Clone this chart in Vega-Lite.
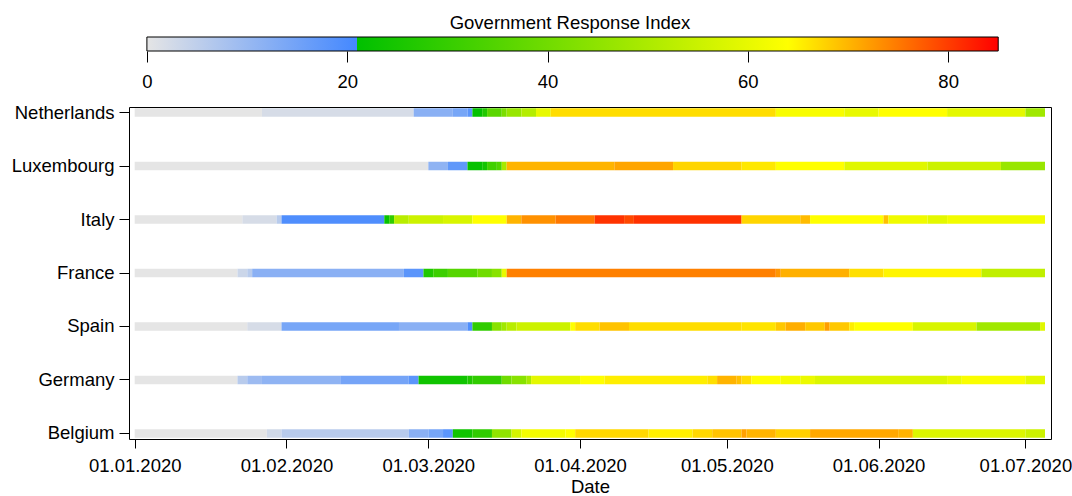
{
 "$schema": "https://vega.github.io/schema/vega-lite/v6.json",
 "autosize": {"type": "none"},
 "padding": {"left": 129, "top": 37, "right": 943, "bottom": 459},
 "background": "white",
 "bounds": "flush",
 "spacing": 56,
 "config": {
  "font": "Liberation Sans",
  "view": {"stroke": "black", "strokeWidth": 1},
  "axis": {"labelFont": "Liberation Sans", "titleFont": "Liberation Sans", "labelColor": "black", "titleColor": "black", "tickColor": "black", "labelFontSize": 18.5, "titleFontSize": 18.5, "titleFontWeight": "normal", "grid": false, "domain": false},
  "title": {"font": "Liberation Sans", "fontSize": 18.5, "fontWeight": "normal", "color": "black"}
 },
 "datasets": {
  "gri": [
   {"country": "Netherlands", "start": "2020-01-01", "end": "2020-01-27", "gri": 0},
   {"country": "Netherlands", "start": "2020-01-27", "end": "2020-02-27", "gri": 2},
   {"country": "Netherlands", "start": "2020-02-27", "end": "2020-03-06", "gri": 11.9},
   {"country": "Netherlands", "start": "2020-03-06", "end": "2020-03-09", "gri": 14.3},
   {"country": "Netherlands", "start": "2020-03-09", "end": "2020-03-10", "gri": 18},
   {"country": "Netherlands", "start": "2020-03-10", "end": "2020-03-12", "gri": 21.5},
   {"country": "Netherlands", "start": "2020-03-12", "end": "2020-03-13", "gri": 26.4},
   {"country": "Netherlands", "start": "2020-03-13", "end": "2020-03-16", "gri": 36.2},
   {"country": "Netherlands", "start": "2020-03-16", "end": "2020-03-17", "gri": 41.6},
   {"country": "Netherlands", "start": "2020-03-17", "end": "2020-03-20", "gri": 46.6},
   {"country": "Netherlands", "start": "2020-03-20", "end": "2020-03-23", "gri": 51.4},
   {"country": "Netherlands", "start": "2020-03-23", "end": "2020-03-26", "gri": 60.1},
   {"country": "Netherlands", "start": "2020-03-26", "end": "2020-05-11", "gri": 66.8},
   {"country": "Netherlands", "start": "2020-05-11", "end": "2020-05-25", "gri": 62.8},
   {"country": "Netherlands", "start": "2020-05-25", "end": "2020-06-01", "gri": 60.1},
   {"country": "Netherlands", "start": "2020-06-01", "end": "2020-06-15", "gri": 64},
   {"country": "Netherlands", "start": "2020-06-15", "end": "2020-07-01", "gri": 59.4},
   {"country": "Netherlands", "start": "2020-07-01", "end": "2020-07-05", "gri": 48},
   {"country": "Luxembourg", "start": "2020-01-01", "end": "2020-03-01", "gri": 0},
   {"country": "Luxembourg", "start": "2020-03-01", "end": "2020-03-05", "gri": 11.2},
   {"country": "Luxembourg", "start": "2020-03-05", "end": "2020-03-09", "gri": 17.3},
   {"country": "Luxembourg", "start": "2020-03-09", "end": "2020-03-12", "gri": 22},
   {"country": "Luxembourg", "start": "2020-03-12", "end": "2020-03-13", "gri": 24},
   {"country": "Luxembourg", "start": "2020-03-13", "end": "2020-03-15", "gri": 31.8},
   {"country": "Luxembourg", "start": "2020-03-15", "end": "2020-03-16", "gri": 34.5},
   {"country": "Luxembourg", "start": "2020-03-16", "end": "2020-03-17", "gri": 49.3},
   {"country": "Luxembourg", "start": "2020-03-17", "end": "2020-04-08", "gri": 70.2},
   {"country": "Luxembourg", "start": "2020-04-08", "end": "2020-04-20", "gri": 71.4},
   {"country": "Luxembourg", "start": "2020-04-20", "end": "2020-05-04", "gri": 67.5},
   {"country": "Luxembourg", "start": "2020-05-04", "end": "2020-05-11", "gri": 65.9},
   {"country": "Luxembourg", "start": "2020-05-11", "end": "2020-05-25", "gri": 64},
   {"country": "Luxembourg", "start": "2020-05-25", "end": "2020-06-11", "gri": 58.8},
   {"country": "Luxembourg", "start": "2020-06-11", "end": "2020-06-26", "gri": 55.4},
   {"country": "Luxembourg", "start": "2020-06-26", "end": "2020-07-05", "gri": 46.6},
   {"country": "Italy", "start": "2020-01-01", "end": "2020-01-23", "gri": 0},
   {"country": "Italy", "start": "2020-01-23", "end": "2020-01-30", "gri": 2},
   {"country": "Italy", "start": "2020-01-30", "end": "2020-01-31", "gri": 5.9},
   {"country": "Italy", "start": "2020-01-31", "end": "2020-02-21", "gri": 19.6},
   {"country": "Italy", "start": "2020-02-21", "end": "2020-02-22", "gri": 22.5},
   {"country": "Italy", "start": "2020-02-22", "end": "2020-02-23", "gri": 29.1},
   {"country": "Italy", "start": "2020-02-23", "end": "2020-02-26", "gri": 52},
   {"country": "Italy", "start": "2020-02-26", "end": "2020-03-04", "gri": 55.4},
   {"country": "Italy", "start": "2020-03-04", "end": "2020-03-10", "gri": 57.4},
   {"country": "Italy", "start": "2020-03-10", "end": "2020-03-17", "gri": 64},
   {"country": "Italy", "start": "2020-03-17", "end": "2020-03-20", "gri": 70.2},
   {"country": "Italy", "start": "2020-03-20", "end": "2020-03-27", "gri": 73.1},
   {"country": "Italy", "start": "2020-03-27", "end": "2020-04-04", "gri": 75.1},
   {"country": "Italy", "start": "2020-04-04", "end": "2020-04-10", "gri": 80.8},
   {"country": "Italy", "start": "2020-04-10", "end": "2020-04-12", "gri": 79.1},
   {"country": "Italy", "start": "2020-04-12", "end": "2020-05-04", "gri": 81},
   {"country": "Italy", "start": "2020-05-04", "end": "2020-05-16", "gri": 67.5},
   {"country": "Italy", "start": "2020-05-16", "end": "2020-05-18", "gri": 69.6},
   {"country": "Italy", "start": "2020-05-18", "end": "2020-06-02", "gri": 64},
   {"country": "Italy", "start": "2020-06-02", "end": "2020-06-03", "gri": 69.2},
   {"country": "Italy", "start": "2020-06-03", "end": "2020-06-11", "gri": 61.5},
   {"country": "Italy", "start": "2020-06-11", "end": "2020-06-15", "gri": 59.4},
   {"country": "Italy", "start": "2020-06-15", "end": "2020-07-05", "gri": 61.8},
   {"country": "France", "start": "2020-01-01", "end": "2020-01-22", "gri": 0},
   {"country": "France", "start": "2020-01-22", "end": "2020-01-24", "gri": 3.4},
   {"country": "France", "start": "2020-01-24", "end": "2020-01-25", "gri": 5.9},
   {"country": "France", "start": "2020-01-25", "end": "2020-02-25", "gri": 11.9},
   {"country": "France", "start": "2020-02-25", "end": "2020-02-29", "gri": 18},
   {"country": "France", "start": "2020-02-29", "end": "2020-03-02", "gri": 26.4},
   {"country": "France", "start": "2020-03-02", "end": "2020-03-05", "gri": 31.1},
   {"country": "France", "start": "2020-03-05", "end": "2020-03-11", "gri": 35.3},
   {"country": "France", "start": "2020-03-11", "end": "2020-03-14", "gri": 39.9},
   {"country": "France", "start": "2020-03-14", "end": "2020-03-16", "gri": 43.9},
   {"country": "France", "start": "2020-03-16", "end": "2020-03-17", "gri": 60.1},
   {"country": "France", "start": "2020-03-17", "end": "2020-05-11", "gri": 74.5},
   {"country": "France", "start": "2020-05-11", "end": "2020-05-12", "gri": 72.7},
   {"country": "France", "start": "2020-05-12", "end": "2020-05-26", "gri": 70.5},
   {"country": "France", "start": "2020-05-26", "end": "2020-06-02", "gri": 66.6},
   {"country": "France", "start": "2020-06-02", "end": "2020-06-22", "gri": 64.8},
   {"country": "France", "start": "2020-06-22", "end": "2020-07-05", "gri": 53.4},
   {"country": "Spain", "start": "2020-01-01", "end": "2020-01-24", "gri": 0},
   {"country": "Spain", "start": "2020-01-24", "end": "2020-01-31", "gri": 2},
   {"country": "Spain", "start": "2020-01-31", "end": "2020-02-24", "gri": 14.3},
   {"country": "Spain", "start": "2020-02-24", "end": "2020-03-09", "gri": 11.9},
   {"country": "Spain", "start": "2020-03-09", "end": "2020-03-10", "gri": 19.6},
   {"country": "Spain", "start": "2020-03-10", "end": "2020-03-14", "gri": 29.1},
   {"country": "Spain", "start": "2020-03-14", "end": "2020-03-16", "gri": 43.9},
   {"country": "Spain", "start": "2020-03-16", "end": "2020-03-17", "gri": 48},
   {"country": "Spain", "start": "2020-03-17", "end": "2020-03-19", "gri": 52},
   {"country": "Spain", "start": "2020-03-19", "end": "2020-03-30", "gri": 55.4},
   {"country": "Spain", "start": "2020-03-30", "end": "2020-03-31", "gri": 64},
   {"country": "Spain", "start": "2020-03-31", "end": "2020-04-05", "gri": 66.8},
   {"country": "Spain", "start": "2020-04-05", "end": "2020-04-11", "gri": 68.9},
   {"country": "Spain", "start": "2020-04-11", "end": "2020-05-04", "gri": 66.8},
   {"country": "Spain", "start": "2020-05-04", "end": "2020-05-11", "gri": 66.2},
   {"country": "Spain", "start": "2020-05-11", "end": "2020-05-13", "gri": 68.5},
   {"country": "Spain", "start": "2020-05-13", "end": "2020-05-17", "gri": 70.7},
   {"country": "Spain", "start": "2020-05-17", "end": "2020-05-21", "gri": 68.5},
   {"country": "Spain", "start": "2020-05-21", "end": "2020-05-22", "gri": 72},
   {"country": "Spain", "start": "2020-05-22", "end": "2020-05-26", "gri": 68.5},
   {"country": "Spain", "start": "2020-05-26", "end": "2020-05-27", "gri": 65.4},
   {"country": "Spain", "start": "2020-05-27", "end": "2020-06-08", "gri": 64},
   {"country": "Spain", "start": "2020-06-08", "end": "2020-06-21", "gri": 57.4},
   {"country": "Spain", "start": "2020-06-21", "end": "2020-07-04", "gri": 48},
   {"country": "Spain", "start": "2020-07-04", "end": "2020-07-05", "gri": 58.8},
   {"country": "Germany", "start": "2020-01-01", "end": "2020-01-22", "gri": 0},
   {"country": "Germany", "start": "2020-01-22", "end": "2020-01-24", "gri": 5.9},
   {"country": "Germany", "start": "2020-01-24", "end": "2020-01-27", "gri": 9.4},
   {"country": "Germany", "start": "2020-01-27", "end": "2020-02-12", "gri": 11.2},
   {"country": "Germany", "start": "2020-02-12", "end": "2020-02-26", "gri": 14.6},
   {"country": "Germany", "start": "2020-02-26", "end": "2020-02-28", "gri": 18},
   {"country": "Germany", "start": "2020-02-28", "end": "2020-03-09", "gri": 23.7},
   {"country": "Germany", "start": "2020-03-09", "end": "2020-03-10", "gri": 26.4},
   {"country": "Germany", "start": "2020-03-10", "end": "2020-03-16", "gri": 29.1},
   {"country": "Germany", "start": "2020-03-16", "end": "2020-03-18", "gri": 39.9},
   {"country": "Germany", "start": "2020-03-18", "end": "2020-03-21", "gri": 43.9},
   {"country": "Germany", "start": "2020-03-21", "end": "2020-03-22", "gri": 49.3},
   {"country": "Germany", "start": "2020-03-22", "end": "2020-04-01", "gri": 59.4},
   {"country": "Germany", "start": "2020-04-01", "end": "2020-04-06", "gri": 64},
   {"country": "Germany", "start": "2020-04-06", "end": "2020-04-27", "gri": 65.4},
   {"country": "Germany", "start": "2020-04-27", "end": "2020-04-29", "gri": 66.6},
   {"country": "Germany", "start": "2020-04-29", "end": "2020-05-03", "gri": 70.2},
   {"country": "Germany", "start": "2020-05-03", "end": "2020-05-04", "gri": 69.2},
   {"country": "Germany", "start": "2020-05-04", "end": "2020-05-06", "gri": 66.8},
   {"country": "Germany", "start": "2020-05-06", "end": "2020-05-12", "gri": 64},
   {"country": "Germany", "start": "2020-05-12", "end": "2020-05-16", "gri": 62.1},
   {"country": "Germany", "start": "2020-05-16", "end": "2020-05-19", "gri": 60.8},
   {"country": "Germany", "start": "2020-05-19", "end": "2020-06-15", "gri": 58.1},
   {"country": "Germany", "start": "2020-06-15", "end": "2020-06-18", "gri": 60.8},
   {"country": "Germany", "start": "2020-06-18", "end": "2020-07-01", "gri": 63.2},
   {"country": "Germany", "start": "2020-07-01", "end": "2020-07-05", "gri": 59.4},
   {"country": "Belgium", "start": "2020-01-01", "end": "2020-01-28", "gri": 0},
   {"country": "Belgium", "start": "2020-01-28", "end": "2020-01-31", "gri": 2.7},
   {"country": "Belgium", "start": "2020-01-31", "end": "2020-02-26", "gri": 5.9},
   {"country": "Belgium", "start": "2020-02-26", "end": "2020-03-01", "gri": 11.9},
   {"country": "Belgium", "start": "2020-03-01", "end": "2020-03-04", "gri": 14.3},
   {"country": "Belgium", "start": "2020-03-04", "end": "2020-03-06", "gri": 18},
   {"country": "Belgium", "start": "2020-03-06", "end": "2020-03-10", "gri": 23.7},
   {"country": "Belgium", "start": "2020-03-10", "end": "2020-03-14", "gri": 29.1},
   {"country": "Belgium", "start": "2020-03-14", "end": "2020-03-18", "gri": 45.3},
   {"country": "Belgium", "start": "2020-03-18", "end": "2020-03-20", "gri": 56.7},
   {"country": "Belgium", "start": "2020-03-20", "end": "2020-03-29", "gri": 62.1},
   {"country": "Belgium", "start": "2020-03-29", "end": "2020-03-31", "gri": 64},
   {"country": "Belgium", "start": "2020-03-31", "end": "2020-04-15", "gri": 67.2},
   {"country": "Belgium", "start": "2020-04-15", "end": "2020-04-24", "gri": 65.2},
   {"country": "Belgium", "start": "2020-04-24", "end": "2020-04-28", "gri": 67.2},
   {"country": "Belgium", "start": "2020-04-28", "end": "2020-05-04", "gri": 68.9},
   {"country": "Belgium", "start": "2020-05-04", "end": "2020-05-05", "gri": 71.8},
   {"country": "Belgium", "start": "2020-05-05", "end": "2020-05-11", "gri": 70.2},
   {"country": "Belgium", "start": "2020-05-11", "end": "2020-05-18", "gri": 67.9},
   {"country": "Belgium", "start": "2020-05-18", "end": "2020-06-05", "gri": 71.2},
   {"country": "Belgium", "start": "2020-06-05", "end": "2020-06-08", "gri": 70.3},
   {"country": "Belgium", "start": "2020-06-08", "end": "2020-07-01", "gri": 58.1},
   {"country": "Belgium", "start": "2020-07-01", "end": "2020-07-05", "gri": 55.4}
  ]
 },
 "vconcat": [
  {
   "width": 922,
   "height": 14,
   "view": {"stroke": null},
   "title": {"text": "Government Response Index", "anchor": "middle", "baseline": "alphabetic", "offset": -11, "dx": -20},
   "data": {"values": [{"lo": 0, "hi": 85}]},
   "mark": {
    "type": "rect",
    "stroke": "black",
    "strokeWidth": 1,
    "fill": {
     "gradient": "linear",
     "x1": 0, "y1": 0, "x2": 1, "y2": 0,
     "stops": [
      {"offset": 0, "color": "#e5e5e5"},
      {"offset": 0.24706, "color": "#4488ff"},
      {"offset": 0.24706, "color": "#00c000"},
      {"offset": 0.75294, "color": "#ffff00"},
      {"offset": 1, "color": "#ff0000"}
     ]
    }
   },
   "encoding": {
    "x": {
     "field": "lo",
     "type": "quantitative",
     "scale": {"domain": [-1.787, 90.27], "nice": false, "zero": false},
     "axis": {"values": [0, 20, 40, 60, 80], "tickSize": 11, "labelPadding": 10, "title": null, "labelFlush": false, "labelOverlap": false}
    },
    "x2": {"field": "hi"}
   }
  },
  {
   "width": 922,
   "height": 332,
   "data": {"name": "gri"},
   "mark": {"type": "bar"},
   "encoding": {
    "x": {
     "field": "start",
     "type": "temporal",
     "scale": {
      "type": "utc",
      "domain": [
       {"year": 2019, "month": 12, "date": 30, "hours": 20, "utc": true},
       {"year": 2020, "month": 7, "date": 6, "hours": 5, "minutes": 30, "utc": true}
      ]
     },
     "axis": {
      "values": [
       {"year": 2020, "month": 1, "date": 1, "utc": true},
       {"year": 2020, "month": 2, "date": 1, "utc": true},
       {"year": 2020, "month": 3, "date": 1, "utc": true},
       {"year": 2020, "month": 4, "date": 1, "utc": true},
       {"year": 2020, "month": 5, "date": 1, "utc": true},
       {"year": 2020, "month": 6, "date": 1, "utc": true},
       {"year": 2020, "month": 7, "date": 1, "utc": true}
      ],
      "format": "%d.%m.%Y",
      "tickSize": 9,
      "labelPadding": 8,
      "title": "Date",
      "titlePadding": 3,
      "labelFlush": false,
      "labelOverlap": false
     }
    },
    "x2": {"field": "end"},
    "y": {
     "field": "country",
     "type": "nominal",
     "sort": ["Netherlands", "Luxembourg", "Italy", "France", "Spain", "Germany", "Belgium"],
     "scale": {"paddingInner": 0.841, "paddingOuter": 0.0234},
     "axis": {"title": null, "tickSize": 10, "labelPadding": 5}
    },
    "color": {
     "field": "gri",
     "type": "quantitative",
     "scale": {
      "domain": [0, 21, 21.0001, 64, 85],
      "range": ["#e5e5e5", "#4488ff", "#00c000", "#ffff00", "#ff0000"],
      "interpolate": "rgb"
     },
     "legend": null
    }
   }
  }
 ]
}
